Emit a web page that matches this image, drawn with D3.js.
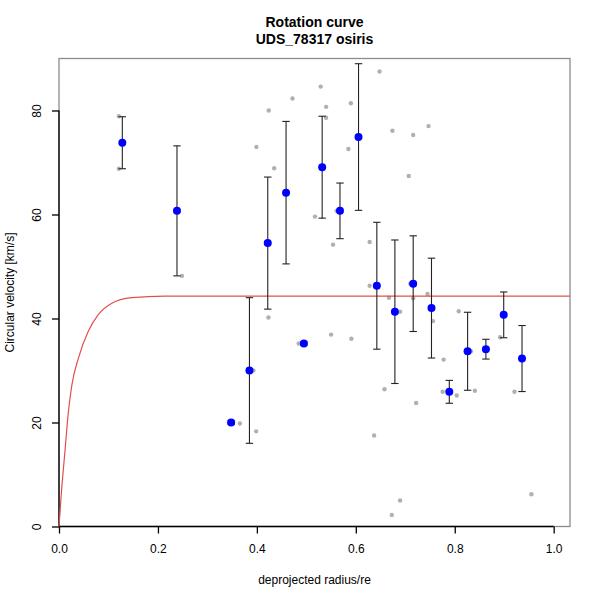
<!DOCTYPE html>
<html>
<head>
<meta charset="utf-8">
<script src="https://cdn.jsdelivr.net/npm/d3@7"></script>
<style>
  body { margin: 0; background: #fff; }
  text { font-family: "Liberation Sans", Arial, sans-serif; }
</style>
</head>
<body>
<div id="chart"></div>
<script>
// binned rotation curve (blue points with error bars)
const bin_r   = [0.128, 0.2385, 0.348, 0.385, 0.422, 0.459, 0.495, 0.532, 0.568, 0.6055,
                 0.6425, 0.679, 0.716, 0.753, 0.789, 0.826, 0.863, 0.899, 0.936];
const bin_v   = [73.8, 60.7, 20.0, 30.0, 54.5, 64.2, 35.2, 69.1, 60.7, 74.9,
                 46.3, 41.3, 46.7, 42.0, 25.9, 33.7, 34.1, 40.7, 32.3];
const bin_err = [5.0, 12.5, 0.3, 14.0, 12.7, 13.7, 0.3, 9.8, 5.35, 14.1,
                 12.2, 13.8, 9.2, 9.6, 2.2, 7.5, 1.9, 4.4, 6.35];

// individual spaxels (grey dots)
const raw_r = [0.121, 0.121, 0.2486, 0.424, 0.399, 0.435, 0.472, 0.529, 0.540, 0.540,
               0.590, 0.585, 0.648, 0.674, 0.716, 0.747, 0.707, 0.5175, 0.561, 0.554,
               0.628, 0.628, 0.667, 0.710, 0.745, 0.6895, 0.716, 0.756, 0.550, 0.591,
               0.4845, 0.637, 0.658, 0.6728, 0.6895, 0.722, 0.7776, 0.7756, 0.804, 0.808,
               0.8327, 0.8407, 0.866, 0.8918, 0.9207, 0.955, 0.3656, 0.393, 0.3986, 0.4234];
const raw_v = [78.9, 68.8, 48.2, 80.0, 73.0, 68.9, 82.3, 84.6, 80.7, 78.6,
               81.4, 72.6, 87.5, 76.1, 75.3, 77.0, 67.4, 59.6, 60.7, 54.2,
               54.7, 46.3, 44.0, 46.7, 44.7, 41.3, 43.9, 39.5, 36.9, 36.1,
               35.2, 17.5, 26.4, 2.2, 5.0, 23.75, 32.1, 25.9, 25.2, 41.4,
               33.7, 26.1, 34.1, 36.4, 25.9, 6.2, 19.8, 30.0, 18.3, 40.2];

// model curve
const model_r = [0, 0.005, 0.012, 0.019, 0.026, 0.039, 0.059, 0.079, 0.106, 0.147, 0.214, 0.3, 0.6, 1.033];
const model_v = [0, 6.7, 14.4, 22.1, 27.2, 32.3, 37.5, 40.7, 42.9, 44.0, 44.3, 44.3, 44.3, 44.3];

const x_ticks = [0, 0.2, 0.4, 0.6, 0.8, 1.0];
const y_ticks = [0, 20, 40, 60, 80];

const width = 600, height = 600;
const margin = {top: 58.5, right: 30, bottom: 73.5, left: 59};

const svg = d3.select("#chart").append("svg")
  .attr("width", width).attr("height", height);

const x = d3.scaleLinear().domain([0, 1.033]).range([margin.left, width - margin.right]);
const y = d3.scaleLinear().domain([0, 90]).range([height - margin.bottom, margin.top]);

// plot box
svg.append("rect")
  .attr("x", margin.left).attr("y", margin.top)
  .attr("width", width - margin.right - margin.left)
  .attr("height", height - margin.bottom - margin.top)
  .attr("fill", "none").attr("stroke", "#8c8c8c").attr("stroke-width", 1.3);

// axes, R style: line only between first and last tick
const xAxis = svg.append("g")
  .attr("transform", `translate(0,${height - margin.bottom})`)
  .call(d3.axisBottom(x).tickValues(x_ticks).tickFormat(d3.format(".1f")).tickSize(7).tickPadding(11));
xAxis.select(".domain").remove();
xAxis.append("line").attr("x1", x(0)).attr("x2", x(1)).attr("stroke", "#000").attr("stroke-width", 1.3);
xAxis.selectAll(".tick line").attr("stroke-width", 1.3);
xAxis.selectAll("text").attr("font-size", 12).attr("fill", "#000");

const yAxis = svg.append("g")
  .attr("transform", `translate(${margin.left},0)`)
  .call(d3.axisLeft(y).tickValues(y_ticks).tickSize(7));
yAxis.select(".domain").remove();
yAxis.append("line").attr("y1", y(0)).attr("y2", y(80)).attr("stroke", "#000").attr("stroke-width", 1.3);
yAxis.selectAll(".tick line").attr("stroke-width", 1.3);
yAxis.selectAll("text")
  .attr("font-size", 12).attr("fill", "#000")
  .attr("text-anchor", "middle")
  .attr("x", 0).attr("y", 0).attr("dy", 0)
  .attr("transform", "translate(-18,0) rotate(-90)");

// grey spaxel dots
svg.append("g").selectAll("circle")
  .data(raw_r.map((r, i) => ({r: r, v: raw_v[i]})))
  .enter().append("circle")
  .attr("cx", d => x(d.r)).attr("cy", d => y(d.v))
  .attr("r", 2.2).attr("fill", "#b0b0b0");

// model curve
const line = d3.line().x(d => x(d.r)).y(d => y(d.v)).curve(d3.curveMonotoneX);
svg.append("path")
  .datum(model_r.map((r, i) => ({r: r, v: model_v[i]})))
  .attr("d", line)
  .attr("fill", "none").attr("stroke", "#e05050").attr("stroke-width", 1.2);

// error bars
const bins = bin_r.map((r, i) => ({r: r, v: bin_v[i], e: bin_err[i]}));
const eb = svg.append("g").attr("stroke", "#222").attr("stroke-width", 1.1);
eb.selectAll(".bar").data(bins).enter().append("line")
  .attr("x1", d => x(d.r)).attr("x2", d => x(d.r))
  .attr("y1", d => y(d.v - d.e)).attr("y2", d => y(d.v + d.e));
eb.selectAll(".capTop").data(bins).enter().append("line")
  .attr("x1", d => x(d.r) - 3.7).attr("x2", d => x(d.r) + 3.7)
  .attr("y1", d => y(d.v + d.e)).attr("y2", d => y(d.v + d.e));
eb.selectAll(".capBot").data(bins).enter().append("line")
  .attr("x1", d => x(d.r) - 3.7).attr("x2", d => x(d.r) + 3.7)
  .attr("y1", d => y(d.v - d.e)).attr("y2", d => y(d.v - d.e));

// blue binned points
svg.append("g").selectAll("circle")
  .data(bins).enter().append("circle")
  .attr("cx", d => x(d.r)).attr("cy", d => y(d.v))
  .attr("r", 4).attr("fill", "#0000ff");

// titles and labels
svg.append("text").attr("x", (margin.left + width - margin.right) / 2).attr("y", 27)
  .attr("text-anchor", "middle").attr("font-size", 14).attr("font-weight", "bold")
  .text("Rotation curve");
svg.append("text").attr("x", (margin.left + width - margin.right) / 2).attr("y", 44)
  .attr("text-anchor", "middle").attr("font-size", 14).attr("font-weight", "bold")
  .text("UDS_78317 osiris");
svg.append("text").attr("x", (margin.left + width - margin.right) / 2).attr("y", 584)
  .attr("text-anchor", "middle").attr("font-size", 12)
  .text("deprojected radius/re");
svg.append("text")
  .attr("transform", `translate(14,${(margin.top + height - margin.bottom) / 2}) rotate(-90)`)
  .attr("text-anchor", "middle").attr("font-size", 12)
  .text("Circular velocity [km/s]");
</script>
</body>
</html>
